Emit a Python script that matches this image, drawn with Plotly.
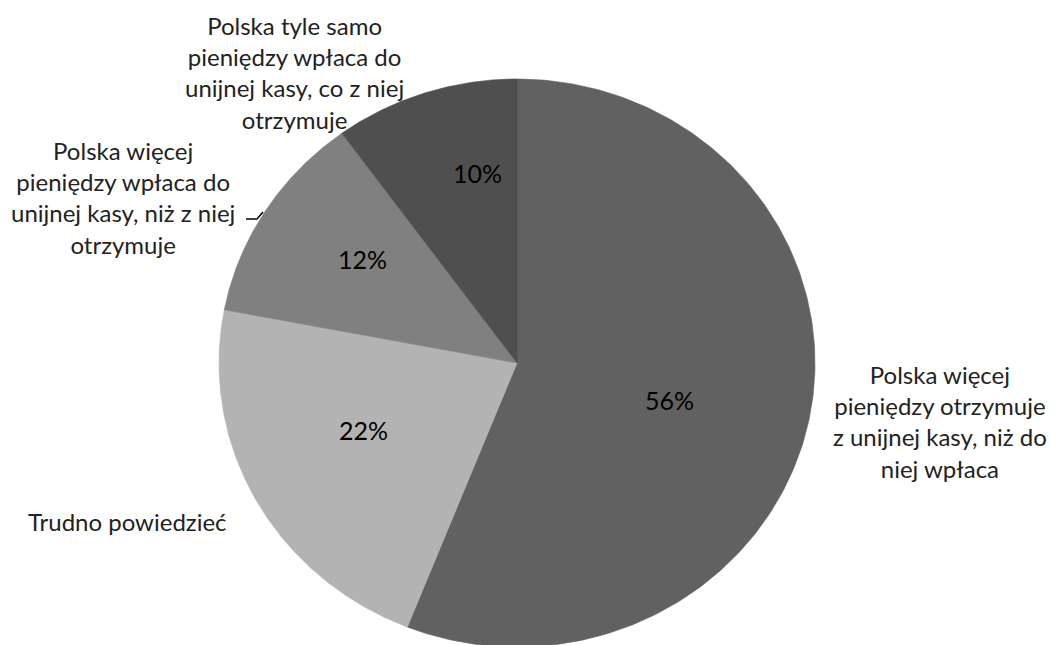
import numpy as np
import plotly.graph_objects as go

# Survey answers and their shares (%)
labels = [
    "Polska więcej<br>pieniędzy otrzymuje<br>z unijnej kasy, niż do<br>niej wpłaca",
    "Trudno powiedzieć",
    "Polska więcej<br>pieniędzy wpłaca do<br>unijnej kasy, niż z niej<br>otrzymuje",
    "Polska tyle samo<br>pieniędzy wpłaca do<br>unijnej kasy, co z niej<br>otrzymuje",
]
shares = [56, 22, 12, 10]

# Styling
colors = ["#616161", "#b3b3b3", "#808080", "#4f4f4f"]
FONT = "Lato"
LABEL_SIZE = 24
PCT_SIZE = 25
W, H = 1060, 645

# Pie geometry in pixel space (slightly oval, as drawn)
CX, CY = 517, 363
RX, RY = 298, 284

# Where the percentage and category texts sit
pct_pos = [(669, 400), (363, 430), (362, 259), (477, 173)]
label_pos = [(940, 421), (127, 521), (123, 197), (294, 72)]

fig = go.Figure()
total = float(sum(shares))
acc = 0.0
for v, c in zip(shares, colors):
    a0 = acc / total * 2 * np.pi
    a1 = (acc + v) / total * 2 * np.pi
    acc += v
    t = np.linspace(a0, a1, 240)
    xs = np.concatenate([[CX], CX + RX * np.sin(t), [CX]])
    ys = np.concatenate([[CY], CY - RY * np.cos(t), [CY]])
    fig.add_trace(go.Scatter(
        x=xs, y=ys, mode="lines", fill="toself", fillcolor=c,
        line=dict(width=0.6, color=c), hoverinfo="skip", showlegend=False,
    ))

for v, (px, py) in zip(shares, pct_pos):
    fig.add_annotation(x=px, y=py, text=f"{v}%", showarrow=False,
                       xanchor="center", yanchor="middle",
                       font=dict(family=FONT, size=PCT_SIZE, color="#000000"))

for lab, (px, py) in zip(labels, label_pos):
    fig.add_annotation(x=px, y=py, text=lab, showarrow=False,
                       xanchor="center", yanchor="middle", align="center",
                       font=dict(family=FONT, size=LABEL_SIZE, color="#222222"))

# small leader line for the left label
fig.add_shape(type="path", path="M 246 219 L 257 219 L 263 212",
              line=dict(color="#000000", width=1.5))

fig.update_xaxes(range=[0, W], visible=False, fixedrange=True)
fig.update_yaxes(range=[H, 0], visible=False, fixedrange=True)
fig.update_layout(
    width=W, height=H, margin=dict(l=0, r=0, t=0, b=0),
    paper_bgcolor="white", plot_bgcolor="white",
)
fig.write_html("out.html")
